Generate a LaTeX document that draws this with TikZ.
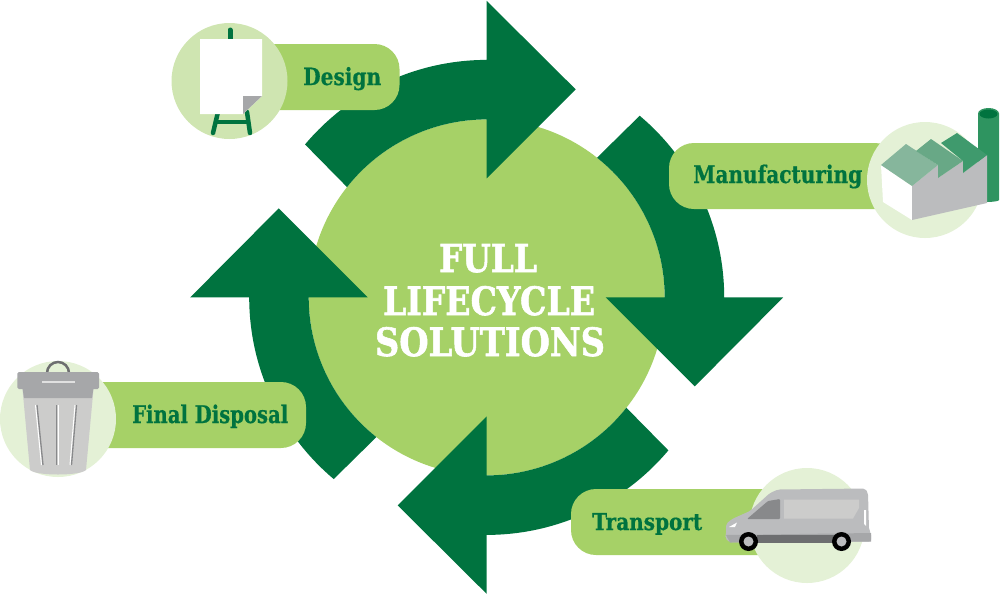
\documentclass[tikz,border=0pt]{standalone}
\usepackage{fontspec}
\usepackage{graphicx}
\setmainfont{DejaVu Serif}
\newfontfamily\labelfont[BoldFeatures={FakeBold=0.6}]{DejaVu Serif}
\newfontfamily\titlefont[BoldFeatures={FakeBold=1.5}]{DejaVu Serif}
\definecolor{dkgreen}{HTML}{00733F}
\definecolor{ltgreen}{HTML}{A6D167}
\definecolor{palea}{HTML}{CFE5B1}
\definecolor{paleb}{HTML}{E4F1D6}
\definecolor{chim}{HTML}{2E9460}
\definecolor{roofa}{HTML}{86B69C}
\definecolor{roofb}{HTML}{68A886}
\definecolor{roofc}{HTML}{3F9A6D}
\definecolor{greya}{HTML}{BBBCBE}
\definecolor{greyb}{HTML}{A6A7A9}
\definecolor{greyc}{HTML}{CCCCCB}
\definecolor{greyd}{HTML}{6D6E70}
\definecolor{greye}{HTML}{88898B}
\newcommand{\fitlabel}[3]{\resizebox{#1pt}{#2pt}{\labelfont\bfseries #3}}
\newcommand{\fittitle}[3]{\resizebox{#1pt}{#2pt}{\titlefont\bfseries #3}}
\tikzset{
  pill/.style={fill=ltgreen,rounded corners=25pt},
  labeltext/.style={anchor=base west,inner sep=0pt,text=dkgreen},
  titletext/.style={anchor=base,inner sep=0pt,text=white},
  easel/.style={draw=dkgreen,line width=5pt,line cap=round},
  rib/.style={line width=1.3pt,draw=greye},
  ribw/.style={line width=1pt,draw=white}
}
\begin{document}
\begin{tikzpicture}[x=1pt,y=-1pt]
\useasboundingbox (0,0) rectangle (1000,595);
% hub
\fill[ltgreen] (486.7,297.4) circle[radius=178];
% arrows
\foreach \a in {0,-90,-180,-270}{
  \fill[dkgreen,shift={(486.7,297.4)},rotate=\a,x=1pt,y=1pt]
    (139.9:237.5) arc[start angle=139.9,end angle=90,radius=237.5]
    -- (0,296.5) -- (89,208) -- (0,119) -- (0,178)
    arc[start angle=90,end angle=141.7,radius=178] -- cycle;
}
% pills
\fill[pill] (250,44) rectangle (399.5,110);
\fill[pill] (669,143) rectangle (900,209);
\fill[pill] (571,489) rectangle (800,555);
\fill[pill] (60,382) rectangle (306,448);
% icon discs
\fill[palea] (229.5,81) circle[radius=58];
\fill[paleb] (925,180) circle[radius=58];
\fill[paleb] (807,525.5) circle[radius=57.5];
\fill[paleb] (58,419) circle[radius=58];
% easel
\draw[easel] (230,30) -- (230,40);
\draw[easel,line width=4.5pt] (218,112) -- (213,133);
\draw[easel,line width=4.5pt] (247,112) -- (250,133);
\draw[easel,line width=3.5pt,line cap=butt] (216,122) -- (248,122);
\fill[white] (200,39) -- (262,39) -- (262,96) -- (243,114) -- (200,114) -- cycle;
\fill[greyb] (243,96) -- (262,96) -- (243,114) -- cycle;
% factory
\fill[chim] (978,113.5) -- (978,203) -- (986,202) .. controls (994,202) and (999,201) .. (999,200) -- (999,113.5) -- cycle;
\fill[chim] (988.5,113.5) ellipse[x radius=10.5,y radius=5.5];
\fill[dkgreen] (988.5,114) ellipse[x radius=9,y radius=4.5];
\fill[white] (881,165) -- (912,186) -- (912,220) -- (883,202) -- cycle;
\fill[greya] (912,186) -- (938,165) -- (938,178) -- (963,161) -- (963,173) -- (987,155) -- (987,203) -- (912,220) -- cycle;
\fill[roofa] (881,165) -- (906,144) -- (938,165) -- (912,186) -- cycle;
\fill[roofb] (916,151) -- (931,139) -- (963,161) -- (938,178) -- (938,165) -- cycle;
\fill[roofc] (941,143) -- (957,133) -- (987,155) -- (963,173) -- (963,161) -- cycle;
% van
\fill[greya,rounded corners=2pt] (726,535) -- (726,524) -- (732,519) -- (750,511) -- (770,493) -- (778,489.5) -- (865,488.5) -- (868,493) -- (869,530) -- (871,533) -- (871,541.5) -- (730,542.5) -- (725,538) -- cycle;
\fill[greyb] (726,535) -- (871,533) -- (871,541.5) -- (730,542.5) -- cycle;
\fill[greyd] (757,535) -- (835,535) -- (835,542.5) -- (757,542.5) -- cycle;
\fill[greye,rounded corners=1pt] (747,519) -- (768,501) -- (780,499) -- (780,519) -- cycle;
\fill[greyc] (784,499.5) -- (859,499.5) -- (859,508) -- (853,518.5) -- (784,518.5) -- cycle;
\fill[white] (729,527) -- (737,522.5) -- (735,527) -- cycle;
\fill[white] (864,510) -- (866,510) -- (866,526) -- (864,524) -- cycle;
\fill[black] (748.5,541.5) circle[radius=9.5];
\fill[greya] (748.5,541.5) circle[radius=5];
\fill[black] (841.5,541.5) circle[radius=9.5];
\fill[greya] (841.5,541.5) circle[radius=5];
% bin
\draw[greyd,line width=2.5pt] (47,373) arc[start angle=180,end angle=360,radius=11];
\fill[greyc] (22.5,389) -- (93.5,389) -- (86,470) .. controls (80,476) and (36,476) .. (30,470) -- cycle;
\fill[greyb] (22.5,388) -- (93.5,388) -- (92,398) -- (24,398) -- cycle;
\fill[greyb,rounded corners=1.5pt] (17.3,372) rectangle (99,389);
\fill[greyc!60!white] (42,381) rectangle (75,383);
\draw[rib] (37,405) -- (43,465);
\draw[ribw] (35.5,405) -- (41.5,465);
\draw[rib] (56.5,405) -- (56.5,465);
\draw[ribw] (58,405) -- (58,465);
\draw[rib] (76.5,405) -- (71.5,465);
\draw[ribw] (75,405) -- (70,465);
% labels
\node[labeltext] (design) at (303,85) {\fitlabel{78}{18}{Design}};
\node[labeltext] (manufacturing) at (693,183) {\fitlabel{169}{18.5}{Manufacturing}};
\node[labeltext] (transport) at (592,530) {\fitlabel{110}{17}{Transport}};
\node[labeltext] (disposal) at (132,423) {\fitlabel{156}{18.5}{Final Disposal}};
\node[titletext] (full) at (488,272) {\fittitle{98}{28}{FULL}};
\node[titletext] (lifecycle) at (489,315) {\fittitle{212}{29}{LIFECYCLE}};
\node[titletext] (solutions) at (490,356) {\fittitle{230}{29}{SOLUTIONS}};
\end{tikzpicture}
\end{document}
